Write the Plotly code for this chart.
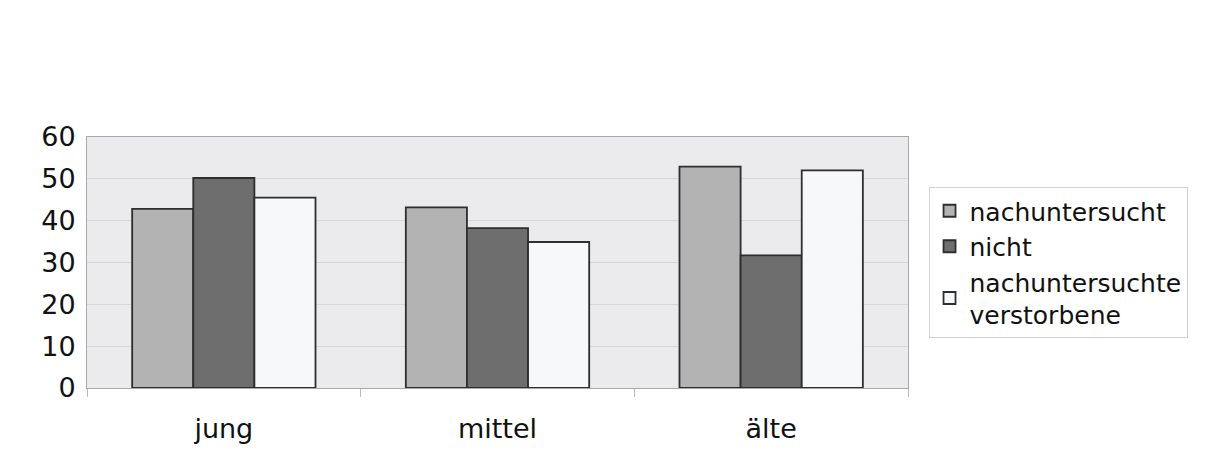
import plotly.graph_objects as go

# Age groups and the share in each group per follow-up status
categories = ["jung", "mittel", "älte"]
series_names = ["nachuntersucht", "nicht", "nachuntersuchte<br>verstorbene"]
nachuntersucht = [42.8, 43.2, 52.9]
nicht = [50.2, 38.2, 31.7]
verstorbene = [45.5, 34.9, 52.0]
y_ticks = [0, 10, 20, 30, 40, 50, 60]

colors = ["#b3b3b3", "#6e6e6e", "#f6f8fa"]
values = [nachuntersucht, nicht, verstorbene]

fig = go.Figure()
for name, vals, col in zip(series_names, values, colors):
    fig.add_trace(go.Bar(
        x=categories, y=vals, name=name,
        marker=dict(color=col, line=dict(color="#2e2e2e", width=1.8)),
    ))

fig.update_layout(
    width=1217, height=474,
    margin=dict(l=87, r=309, t=137, b=86),
    paper_bgcolor="white",
    plot_bgcolor="#ebebed",
    barmode="group",
    bargap=0.33, bargroupgap=0,
    font=dict(family="DejaVu Sans, Verdana, sans-serif", color="#111111"),
    legend=dict(
        x=1.025, y=0.50, xanchor="left", yanchor="middle",
        font=dict(size=25, color="#111111"),
        bordercolor="#d0d0d0", borderwidth=1, bgcolor="white",
        tracegroupgap=0, itemwidth=30,
    ),
    showlegend=True,
)
fig.update_xaxes(
    type="category",
    tickfont=dict(size=27),
    ticks="outside", tickson="boundaries", ticklen=8, tickcolor="#bbbbbb",
    ticklabelstandoff=17,
    showline=True, linecolor="#a8a8a8", linewidth=1, mirror=True,
    showgrid=False,
)
fig.update_yaxes(
    range=[0, 60], tickvals=y_ticks,
    tickfont=dict(size=27),
    showgrid=True, gridcolor="#d6d6d8", gridwidth=1,
    showline=True, linecolor="#a8a8a8", linewidth=1, mirror=True,
    ticks="", ticklabelstandoff=5,
    zeroline=False,
)

fig.write_html("out.html")
